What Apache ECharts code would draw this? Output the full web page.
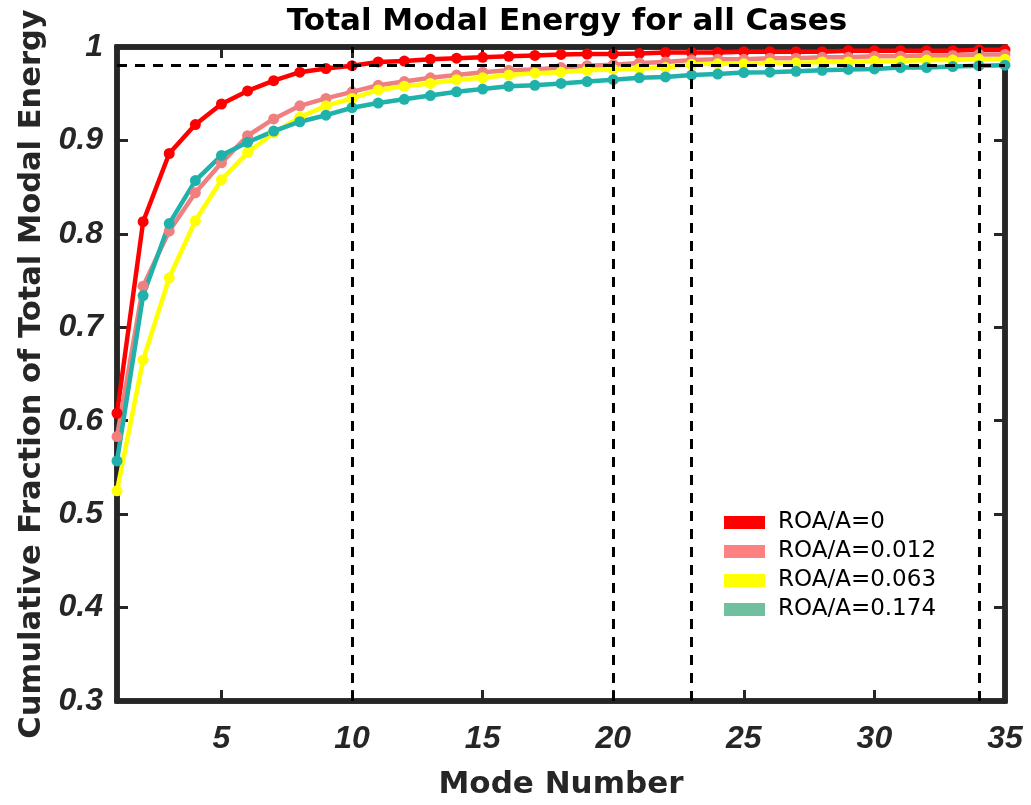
<!DOCTYPE html>
<html>
<head>
<meta charset="utf-8">
<script src="https://cdn.jsdelivr.net/npm/echarts@6/dist/echarts.min.js"></script>
<style>
  html, body { margin: 0; padding: 0; background: #fff; }
  #chart { width: 1031px; height: 805px; }
</style>
</head>
<body>
<div id="chart"></div>
<script>
  // mode numbers 1..35
  const modes = [1, 2, 3, 4, 5, 6, 7, 8, 9, 10, 11, 12, 13, 14, 15, 16, 17, 18,
    19, 20, 21, 22, 23, 24, 25, 26, 27, 28, 29, 30, 31, 32, 33, 34, 35]

  const roa0 = [0.608, 0.813, 0.886, 0.917, 0.939, 0.953, 0.964, 0.973, 0.977, 0.980,
    0.984, 0.985, 0.987, 0.988, 0.989, 0.990, 0.991, 0.992, 0.9925, 0.9925,
    0.993, 0.994, 0.994, 0.994, 0.995, 0.995, 0.995, 0.995, 0.996, 0.996,
    0.996, 0.996, 0.996, 0.997, 0.997]
  const roa012 = [0.583, 0.744, 0.803, 0.844, 0.876, 0.905, 0.923, 0.937, 0.945, 0.952,
    0.959, 0.963, 0.967, 0.970, 0.973, 0.975, 0.976, 0.978, 0.980, 0.981,
    0.983, 0.984, 0.986, 0.987, 0.987, 0.988, 0.988, 0.989, 0.989, 0.990,
    0.990, 0.991, 0.991, 0.992, 0.992]
  const roa063 = [0.525, 0.665, 0.753, 0.814, 0.858, 0.887, 0.908, 0.925, 0.937, 0.945,
    0.954, 0.958, 0.961, 0.965, 0.967, 0.970, 0.972, 0.973, 0.975, 0.976,
    0.977, 0.978, 0.9815, 0.982, 0.982, 0.983, 0.983, 0.984, 0.984, 0.985,
    0.985, 0.986, 0.986, 0.987, 0.987]
  const roa174 = [0.557, 0.734, 0.811, 0.857, 0.884, 0.898, 0.910, 0.920, 0.927, 0.935,
    0.940, 0.944, 0.948, 0.952, 0.955, 0.958, 0.959, 0.961, 0.963, 0.965,
    0.967, 0.968, 0.970, 0.971, 0.9726, 0.973, 0.974, 0.975, 0.976, 0.9765,
    0.978, 0.978, 0.979, 0.980, 0.9805]

  const seriesNames = ['ROA/A=0', 'ROA/A=0.012', 'ROA/A=0.063', 'ROA/A=0.174']
  const lineColors = ['#ff0000', '#f08080', '#ffff00', '#20b2aa']
  const legendColors = ['#ff0000', '#ff8080', '#ffff00', '#70bf9f']

  // reference lines
  const vRefs = [10, 20, 23, 34]
  const hRef = 0.98

  const xTicks = [5, 10, 15, 20, 25, 30, 35]

  const axisColor = '#262626'
  const tickFont = {
    fontFamily: 'Liberation Sans',
    fontStyle: 'italic',
    fontWeight: 'bold',
    fontSize: 32,
    color: axisColor
  }
  const boldFont = {
    fontFamily: 'DejaVu Sans',
    fontWeight: 'bold',
    color: axisColor
  }

  const chart = echarts.init(document.getElementById('chart'))

  const makeSeries = (name, values, i) => ({
    name,
    type: 'line',
    data: modes.map((m, k) => [m, values[k]]),
    color: lineColors[i],
    lineStyle: { width: 4.5 },
    symbol: 'circle',
    symbolSize: 11,
    showSymbol: true
  })

  const series = [roa0, roa012, roa063, roa174].map((v, i) => makeSeries(seriesNames[i], v, i))

  // dashed guide lines
  series.push({
    name: 'ref',
    type: 'line',
    data: [],
    silent: true,
    markLine: {
      symbol: 'none',
      silent: true,
      label: { show: false },
      lineStyle: { type: [10, 8], color: '#000', width: 3 },
      data: [
        ...vRefs.map((x) => ({ xAxis: x })),
        { yAxis: hRef }
      ]
    },
    z: 1
  })

  chart.setOption({
    animation: false,
    title: {
      text: 'Total Modal Energy for all Cases',
      left: 562,
      textAlign: 'center',
      top: 1,
      textStyle: { ...boldFont, color: '#000', fontSize: 31 }
    },
    legend: {
      data: seriesNames.map((n, i) => ({ name: n, itemStyle: { color: legendColors[i] } })),
      orient: 'vertical',
      left: 719,
      top: 506,
      itemWidth: 41,
      itemHeight: 13,
      itemGap: 6,
      icon: 'rect',
      textStyle: {
        fontFamily: 'DejaVu Sans',
        fontSize: 23,
        color: '#000',
        padding: [0, 0, 0, 8]
      }
    },
    grid: {
      left: 117,
      right: 26,
      top: 47,
      bottom: 102,
      show: true,
      borderColor: axisColor,
      borderWidth: 5.5
    },
    xAxis: [
      {
        type: 'value',
        min: 1,
        max: 35,
        name: 'Mode Number',
        nameLocation: 'middle',
        nameGap: 68,
        nameTextStyle: { ...boldFont, fontSize: 31 },
        axisLine: { lineStyle: { color: axisColor, width: 5.5 } },
        axisTick: { inside: true, length: 11, lineStyle: { width: 3, color: axisColor }, customValues: xTicks },
        axisLabel: { ...tickFont, margin: 22, customValues: xTicks },
        splitLine: { show: false }
      },
      {
        type: 'value',
        position: 'top',
        min: 1,
        max: 35,
        axisLine: { lineStyle: { color: axisColor, width: 5.5 } },
        axisTick: { inside: true, length: 11, lineStyle: { width: 3, color: axisColor }, customValues: xTicks },
        axisLabel: { show: false },
        splitLine: { show: false }
      }
    ],
    yAxis: [
      {
        type: 'value',
        min: 0.3,
        max: 1,
        interval: 0.1,
        name: 'Cumulative Fraction of Total Modal Energy',
        nameLocation: 'middle',
        nameGap: 68,
        nameTextStyle: { ...boldFont, fontSize: 30.5 },
        axisLine: { show: true, lineStyle: { color: axisColor, width: 5.5 } },
        axisTick: { show: true, inside: true, length: 11, lineStyle: { width: 3, color: axisColor } },
        axisLabel: {
          ...tickFont,
          margin: 14,
          formatter: (v) => String(Math.round(v * 10) / 10)
        },
        splitLine: { show: false }
      },
      {
        type: 'value',
        position: 'right',
        min: 0.3,
        max: 1,
        interval: 0.1,
        axisLine: { show: true, lineStyle: { color: axisColor, width: 5.5 } },
        axisTick: { show: true, inside: true, length: 11, lineStyle: { width: 3, color: axisColor } },
        axisLabel: { show: false },
        splitLine: { show: false }
      }
    ],
    series
  })
</script>
</body>
</html>
